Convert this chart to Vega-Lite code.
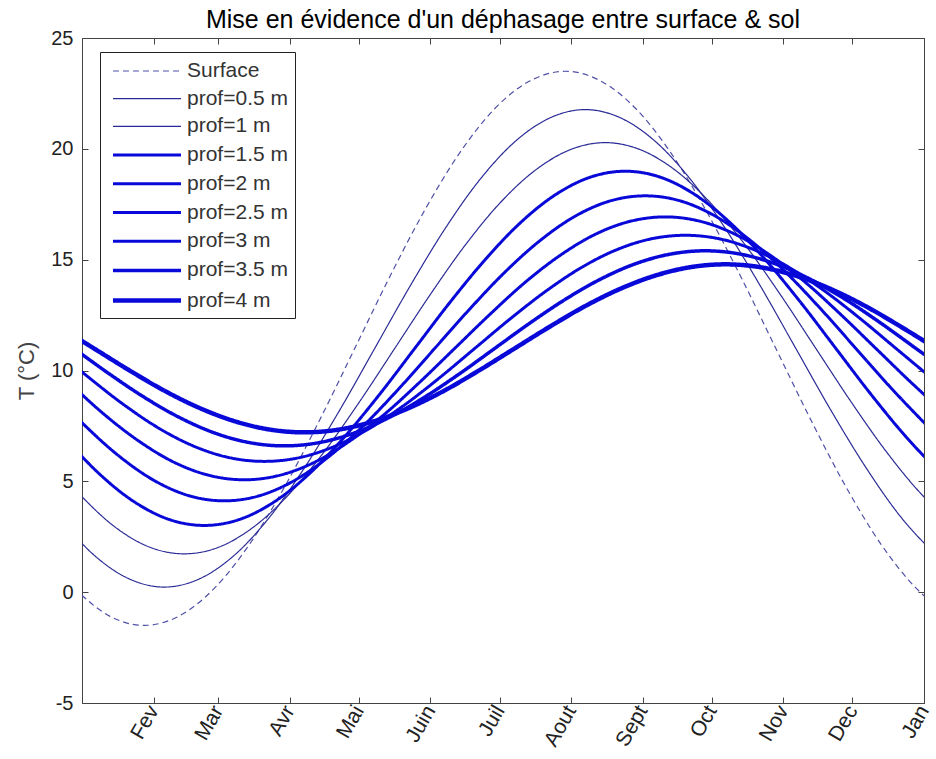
{
  "$schema": "https://vega.github.io/schema/vega-lite/v6.json",
  "width": 842,
  "height": 665,
  "autosize": {"type": "none"},
  "padding": {"left": 82, "top": 38, "right": 12, "bottom": 56},
  "background": "white",
  "title": {"text": "Mise en évidence d'un déphasage entre surface & sol", "fontSize": 25, "font": "Liberation Sans", "fontWeight": "normal", "color": "#000", "offset": -5},
  "config": {
    "view": {"stroke": "#444", "strokeWidth": 1},
    "axis": {"grid": false, "domainColor": "#444", "tickColor": "#444", "labelColor": "#222", "labelFont": "Liberation Sans", "labelFontSize": 20, "tickSize": -6, "labelOverlap": false}
  },
  "data": {"values": [
    {"s":"Surface","x":-3.42,"t":0.18},{"s":"Surface","x":11.79,"t":-1.07},{"s":"Surface","x":27,"t":-1.5},{"s":"Surface","x":42.21,"t":-1.07},{"s":"Surface","x":57.42,"t":0.18},{"s":"Surface","x":72.62,"t":2.16},{"s":"Surface","x":87.83,"t":4.75},{"s":"Surface","x":103.04,"t":7.77},{"s":"Surface","x":118.25,"t":11},{"s":"Surface","x":133.46,"t":14.24},{"s":"Surface","x":148.67,"t":17.25},{"s":"Surface","x":163.87,"t":19.84},{"s":"Surface","x":179.08,"t":21.83},{"s":"Surface","x":194.29,"t":23.07},{"s":"Surface","x":209.5,"t":23.5},{"s":"Surface","x":224.71,"t":23.07},{"s":"Surface","x":239.92,"t":21.83},{"s":"Surface","x":255.12,"t":19.84},{"s":"Surface","x":270.33,"t":17.25},{"s":"Surface","x":285.54,"t":14.24},{"s":"Surface","x":300.75,"t":11},{"s":"Surface","x":315.96,"t":7.77},{"s":"Surface","x":331.17,"t":4.75},{"s":"Surface","x":346.37,"t":2.16},{"s":"Surface","x":361.58,"t":0.18},{"s":"Surface","x":376.79,"t":-1.07},
    {"s":"prof=0.5 m","x":-9.96,"t":3.38},{"s":"prof=0.5 m","x":5.24,"t":1.67},{"s":"prof=0.5 m","x":20.45,"t":0.6},{"s":"prof=0.5 m","x":35.66,"t":0.23},{"s":"prof=0.5 m","x":50.87,"t":0.6},{"s":"prof=0.5 m","x":66.08,"t":1.67},{"s":"prof=0.5 m","x":81.28,"t":3.38},{"s":"prof=0.5 m","x":96.49,"t":5.62},{"s":"prof=0.5 m","x":111.7,"t":8.21},{"s":"prof=0.5 m","x":126.91,"t":11},{"s":"prof=0.5 m","x":142.12,"t":13.79},{"s":"prof=0.5 m","x":157.33,"t":16.39},{"s":"prof=0.5 m","x":172.53,"t":18.62},{"s":"prof=0.5 m","x":187.74,"t":20.33},{"s":"prof=0.5 m","x":202.95,"t":21.4},{"s":"prof=0.5 m","x":218.16,"t":21.77},{"s":"prof=0.5 m","x":233.37,"t":21.4},{"s":"prof=0.5 m","x":248.58,"t":20.33},{"s":"prof=0.5 m","x":263.78,"t":18.62},{"s":"prof=0.5 m","x":278.99,"t":16.39},{"s":"prof=0.5 m","x":294.2,"t":13.79},{"s":"prof=0.5 m","x":309.41,"t":11},{"s":"prof=0.5 m","x":324.62,"t":8.21},{"s":"prof=0.5 m","x":339.83,"t":5.62},{"s":"prof=0.5 m","x":355.03,"t":3.38},{"s":"prof=0.5 m","x":370.24,"t":1.67},
    {"s":"prof=1 m","x":-1.28,"t":4.44},{"s":"prof=1 m","x":13.92,"t":2.97},{"s":"prof=1 m","x":29.13,"t":2.04},{"s":"prof=1 m","x":44.34,"t":1.73},{"s":"prof=1 m","x":59.55,"t":2.04},{"s":"prof=1 m","x":74.76,"t":2.97},{"s":"prof=1 m","x":89.96,"t":4.44},{"s":"prof=1 m","x":105.17,"t":6.36},{"s":"prof=1 m","x":120.38,"t":8.6},{"s":"prof=1 m","x":135.59,"t":11},{"s":"prof=1 m","x":150.8,"t":13.4},{"s":"prof=1 m","x":166.01,"t":15.64},{"s":"prof=1 m","x":181.21,"t":17.56},{"s":"prof=1 m","x":196.42,"t":19.03},{"s":"prof=1 m","x":211.63,"t":19.96},{"s":"prof=1 m","x":226.84,"t":20.28},{"s":"prof=1 m","x":242.05,"t":19.96},{"s":"prof=1 m","x":257.26,"t":19.03},{"s":"prof=1 m","x":272.46,"t":17.56},{"s":"prof=1 m","x":287.67,"t":15.64},{"s":"prof=1 m","x":302.88,"t":13.4},{"s":"prof=1 m","x":318.09,"t":11},{"s":"prof=1 m","x":333.3,"t":8.6},{"s":"prof=1 m","x":348.51,"t":6.36},{"s":"prof=1 m","x":363.71,"t":4.44},{"s":"prof=1 m","x":378.92,"t":2.97},
    {"s":"prof=1.5 m","x":-7.82,"t":7.01},{"s":"prof=1.5 m","x":7.39,"t":5.35},{"s":"prof=1.5 m","x":22.59,"t":4.08},{"s":"prof=1.5 m","x":37.8,"t":3.28},{"s":"prof=1.5 m","x":53.01,"t":3.01},{"s":"prof=1.5 m","x":68.22,"t":3.28},{"s":"prof=1.5 m","x":83.43,"t":4.08},{"s":"prof=1.5 m","x":98.63,"t":5.35},{"s":"prof=1.5 m","x":113.84,"t":7.01},{"s":"prof=1.5 m","x":129.05,"t":8.93},{"s":"prof=1.5 m","x":144.26,"t":11},{"s":"prof=1.5 m","x":159.47,"t":13.07},{"s":"prof=1.5 m","x":174.68,"t":14.99},{"s":"prof=1.5 m","x":189.88,"t":16.65},{"s":"prof=1.5 m","x":205.09,"t":17.92},{"s":"prof=1.5 m","x":220.3,"t":18.72},{"s":"prof=1.5 m","x":235.51,"t":18.99},{"s":"prof=1.5 m","x":250.72,"t":18.72},{"s":"prof=1.5 m","x":265.93,"t":17.92},{"s":"prof=1.5 m","x":281.13,"t":16.65},{"s":"prof=1.5 m","x":296.34,"t":14.99},{"s":"prof=1.5 m","x":311.55,"t":13.07},{"s":"prof=1.5 m","x":326.76,"t":11},{"s":"prof=1.5 m","x":341.97,"t":8.93},{"s":"prof=1.5 m","x":357.18,"t":7.01},{"s":"prof=1.5 m","x":372.38,"t":5.35},
    {"s":"prof=2 m","x":-14.36,"t":9.22},{"s":"prof=2 m","x":0.85,"t":7.56},{"s":"prof=2 m","x":16.06,"t":6.14},{"s":"prof=2 m","x":31.26,"t":5.04},{"s":"prof=2 m","x":46.47,"t":4.35},{"s":"prof=2 m","x":61.68,"t":4.12},{"s":"prof=2 m","x":76.89,"t":4.35},{"s":"prof=2 m","x":92.1,"t":5.04},{"s":"prof=2 m","x":107.3,"t":6.14},{"s":"prof=2 m","x":122.51,"t":7.56},{"s":"prof=2 m","x":137.72,"t":9.22},{"s":"prof=2 m","x":152.93,"t":11},{"s":"prof=2 m","x":168.14,"t":12.78},{"s":"prof=2 m","x":183.35,"t":14.44},{"s":"prof=2 m","x":198.55,"t":15.86},{"s":"prof=2 m","x":213.76,"t":16.96},{"s":"prof=2 m","x":228.97,"t":17.65},{"s":"prof=2 m","x":244.18,"t":17.88},{"s":"prof=2 m","x":259.39,"t":17.65},{"s":"prof=2 m","x":274.6,"t":16.96},{"s":"prof=2 m","x":289.8,"t":15.86},{"s":"prof=2 m","x":305.01,"t":14.44},{"s":"prof=2 m","x":320.22,"t":12.78},{"s":"prof=2 m","x":335.43,"t":11},{"s":"prof=2 m","x":350.64,"t":9.22},{"s":"prof=2 m","x":365.85,"t":7.56},
    {"s":"prof=2.5 m","x":-5.7,"t":9.47},{"s":"prof=2.5 m","x":9.51,"t":8.03},{"s":"prof=2.5 m","x":24.72,"t":6.81},{"s":"prof=2.5 m","x":39.92,"t":5.86},{"s":"prof=2.5 m","x":55.13,"t":5.27},{"s":"prof=2.5 m","x":70.34,"t":5.07},{"s":"prof=2.5 m","x":85.55,"t":5.27},{"s":"prof=2.5 m","x":100.76,"t":5.86},{"s":"prof=2.5 m","x":115.96,"t":6.81},{"s":"prof=2.5 m","x":131.17,"t":8.03},{"s":"prof=2.5 m","x":146.38,"t":9.47},{"s":"prof=2.5 m","x":161.59,"t":11},{"s":"prof=2.5 m","x":176.8,"t":12.53},{"s":"prof=2.5 m","x":192.01,"t":13.97},{"s":"prof=2.5 m","x":207.21,"t":15.19},{"s":"prof=2.5 m","x":222.42,"t":16.14},{"s":"prof=2.5 m","x":237.63,"t":16.73},{"s":"prof=2.5 m","x":252.84,"t":16.93},{"s":"prof=2.5 m","x":268.05,"t":16.73},{"s":"prof=2.5 m","x":283.26,"t":16.14},{"s":"prof=2.5 m","x":298.46,"t":15.19},{"s":"prof=2.5 m","x":313.67,"t":13.97},{"s":"prof=2.5 m","x":328.88,"t":12.53},{"s":"prof=2.5 m","x":344.09,"t":11},{"s":"prof=2.5 m","x":359.3,"t":9.47},{"s":"prof=2.5 m","x":374.51,"t":8.03},
    {"s":"prof=3 m","x":-12.2,"t":11},{"s":"prof=3 m","x":3.01,"t":9.68},{"s":"prof=3 m","x":18.22,"t":8.45},{"s":"prof=3 m","x":33.43,"t":7.39},{"s":"prof=3 m","x":48.63,"t":6.58},{"s":"prof=3 m","x":63.84,"t":6.07},{"s":"prof=3 m","x":79.05,"t":5.9},{"s":"prof=3 m","x":94.26,"t":6.07},{"s":"prof=3 m","x":109.47,"t":6.58},{"s":"prof=3 m","x":124.67,"t":7.39},{"s":"prof=3 m","x":139.88,"t":8.45},{"s":"prof=3 m","x":155.09,"t":9.68},{"s":"prof=3 m","x":170.3,"t":11},{"s":"prof=3 m","x":185.51,"t":12.32},{"s":"prof=3 m","x":200.72,"t":13.55},{"s":"prof=3 m","x":215.92,"t":14.61},{"s":"prof=3 m","x":231.13,"t":15.42},{"s":"prof=3 m","x":246.34,"t":15.93},{"s":"prof=3 m","x":261.55,"t":16.1},{"s":"prof=3 m","x":276.76,"t":15.93},{"s":"prof=3 m","x":291.97,"t":15.42},{"s":"prof=3 m","x":307.17,"t":14.61},{"s":"prof=3 m","x":322.38,"t":13.55},{"s":"prof=3 m","x":337.59,"t":12.32},{"s":"prof=3 m","x":352.8,"t":11},{"s":"prof=3 m","x":368.01,"t":9.68},
    {"s":"prof=3.5 m","x":-3.55,"t":11},{"s":"prof=3.5 m","x":11.66,"t":9.86},{"s":"prof=3.5 m","x":26.87,"t":8.8},{"s":"prof=3.5 m","x":42.08,"t":7.89},{"s":"prof=3.5 m","x":57.28,"t":7.19},{"s":"prof=3.5 m","x":72.49,"t":6.75},{"s":"prof=3.5 m","x":87.7,"t":6.6},{"s":"prof=3.5 m","x":102.91,"t":6.75},{"s":"prof=3.5 m","x":118.12,"t":7.19},{"s":"prof=3.5 m","x":133.32,"t":7.89},{"s":"prof=3.5 m","x":148.53,"t":8.8},{"s":"prof=3.5 m","x":163.74,"t":9.86},{"s":"prof=3.5 m","x":178.95,"t":11},{"s":"prof=3.5 m","x":194.16,"t":12.14},{"s":"prof=3.5 m","x":209.37,"t":13.2},{"s":"prof=3.5 m","x":224.57,"t":14.11},{"s":"prof=3.5 m","x":239.78,"t":14.81},{"s":"prof=3.5 m","x":254.99,"t":15.25},{"s":"prof=3.5 m","x":270.2,"t":15.4},{"s":"prof=3.5 m","x":285.41,"t":15.25},{"s":"prof=3.5 m","x":300.62,"t":14.81},{"s":"prof=3.5 m","x":315.82,"t":14.11},{"s":"prof=3.5 m","x":331.03,"t":13.2},{"s":"prof=3.5 m","x":346.24,"t":12.14},{"s":"prof=3.5 m","x":361.45,"t":11},{"s":"prof=3.5 m","x":376.66,"t":9.86},
    {"s":"prof=4 m","x":-10.1,"t":11.98},{"s":"prof=4 m","x":5.11,"t":11},{"s":"prof=4 m","x":20.32,"t":10.02},{"s":"prof=4 m","x":35.53,"t":9.1},{"s":"prof=4 m","x":50.74,"t":8.32},{"s":"prof=4 m","x":65.94,"t":7.72},{"s":"prof=4 m","x":81.15,"t":7.34},{"s":"prof=4 m","x":96.36,"t":7.21},{"s":"prof=4 m","x":111.57,"t":7.34},{"s":"prof=4 m","x":126.78,"t":7.72},{"s":"prof=4 m","x":141.98,"t":8.32},{"s":"prof=4 m","x":157.19,"t":9.1},{"s":"prof=4 m","x":172.4,"t":10.02},{"s":"prof=4 m","x":187.61,"t":11},{"s":"prof=4 m","x":202.82,"t":11.98},{"s":"prof=4 m","x":218.03,"t":12.9},{"s":"prof=4 m","x":233.23,"t":13.68},{"s":"prof=4 m","x":248.44,"t":14.28},{"s":"prof=4 m","x":263.65,"t":14.66},{"s":"prof=4 m","x":278.86,"t":14.79},{"s":"prof=4 m","x":294.07,"t":14.66},{"s":"prof=4 m","x":309.28,"t":14.28},{"s":"prof=4 m","x":324.48,"t":13.68},{"s":"prof=4 m","x":339.69,"t":12.9},{"s":"prof=4 m","x":354.9,"t":11.98},{"s":"prof=4 m","x":370.11,"t":11}
  ]},
  "layer": [
    {
      "mark": {"type": "line", "clip": true, "interpolate": "monotone"},
      "encoding": {
        "x": {"field": "x", "type": "quantitative", "scale": {"domain": [0, 365], "nice": false, "zero": false},
          "axis": {"orient": "bottom", "title": null, "values": [31, 59, 90, 120, 151, 181, 212, 243, 273, 304, 334, 365],
            "labelExpr": "['Fev','Mar','Avr','Mai','Juin','Juil','Aout','Sept','Oct','Nov','Dec','Jan'][indexof([31,59,90,120,151,181,212,243,273,304,334,365], datum.value)]",
            "labelAngle": -60, "labelPadding": 10, "labelFontSize": 21}},
        "y": {"field": "t", "type": "quantitative", "scale": {"domain": [-5, 25], "nice": false, "zero": false},
          "axis": {"orient": "left", "values": [-5, 0, 5, 10, 15, 20, 25], "labelExpr": "'' + datum.value", "title": "T (°C)", "titleFont": "Liberation Sans", "titleFontSize": 22, "titleFontWeight": "normal", "titleColor": "#444", "titlePadding": 12, "labelPadding": 15}},
        "color": {"field": "s", "type": "nominal",
          "scale": {"domain": ["Surface", "prof=0.5 m", "prof=1 m", "prof=1.5 m", "prof=2 m", "prof=2.5 m", "prof=3 m", "prof=3.5 m", "prof=4 m"],
            "range": ["#5050a8", "#2a2a96", "#2a2a96", "#0808d8", "#0808d8", "#0808d8", "#0808d8", "#0808d8", "#0808d8"]},
          "legend": {"orient": "none", "legendX": 18, "legendY": 14, "title": null, "symbolType": "M-0.706,0H5.294", "symbolSize": 514, "labelFont": "Liberation Sans", "labelFontSize": 21, "labelColor": "#333", "strokeColor": "#222", "fillColor": "white", "padding": 7, "labelOffset": 52, "rowPadding": 5.7}},
        "strokeWidth": {"field": "s", "type": "ordinal",
          "scale": {"type": "ordinal", "domain": ["Surface", "prof=0.5 m", "prof=1 m", "prof=1.5 m", "prof=2 m", "prof=2.5 m", "prof=3 m", "prof=3.5 m", "prof=4 m"],
            "range": [1.2, 1.2, 1.2, 3, 3, 3, 3, 3.5, 4.5]}},
        "strokeDash": {"field": "s", "type": "nominal",
          "scale": {"domain": ["Surface", "prof=0.5 m", "prof=1 m", "prof=1.5 m", "prof=2 m", "prof=2.5 m", "prof=3 m", "prof=3.5 m", "prof=4 m"],
            "range": [[6, 4], [1, 0], [1, 0], [1, 0], [1, 0], [1, 0], [1, 0], [1, 0], [1, 0]]}}
      }
    },
    {
      "mark": {"type": "point", "opacity": 0, "clip": true},
      "encoding": {
        "x": {"field": "x", "type": "quantitative", "axis": {"orient": "top", "title": null, "labels": false, "domain": false, "values": [31, 59, 90, 120, 151, 181, 212, 243, 273, 304, 334, 365]}},
        "y": {"field": "t", "type": "quantitative", "axis": {"orient": "right", "title": null, "labels": false, "domain": false, "values": [-5, 0, 5, 10, 15, 20, 25]}}
      }
    }
  ],
  "resolve": {"axis": {"x": "independent", "y": "independent"}}
}
